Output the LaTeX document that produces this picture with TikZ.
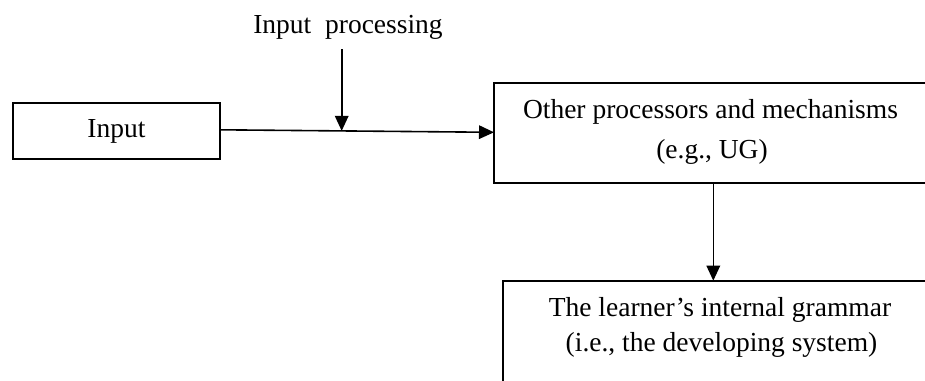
\documentclass[tikz,border=0pt]{standalone}
\usepackage{fontspec}
\setmainfont{Liberation Serif}
\usetikzlibrary{arrows.meta}
\tikzset{
  box/.style={draw, line width=1.7pt, rectangle, inner sep=0pt, outer sep=0pt},
  txt/.style={anchor=base, inner sep=0pt, font=\fontsize{27.5}{33}\selectfont},
  arrow/.style={line width=1.6pt, -{Triangle[length=15pt,width=13.5pt]}}
}
\begin{document}
\begin{tikzpicture}[x=1pt,y=-1pt]
  \useasboundingbox (0,0) rectangle (925,380);
  \clip (0,0) rectangle (925,380);
  \fill[white] (0,0) rectangle (925,380);

  % boxes
  \node[box, minimum width=207.3pt, minimum height=56.6pt] (input) at (116.4,131) {};
  \node[box, minimum width=432pt, minimum height=100.6pt] (other) at (710,133) {};
  \node[box, minimum width=434pt, minimum height=140pt] (learner) at (720,350.7) {};

  % labels
  \node[txt] (inputtxt) at (116.5,137.3) {Input};
  \node[txt] (proctxt) at (348,33.3) {Input\ \ processing};
  \node[txt] (othera) at (710.5,118) {Other processors and mechanisms};
  \node[txt] (otherb) at (712,158.3) {(e.g., UG)};
  \node[txt] (learna) at (720,316.7) {The learner’s internal grammar};
  \node[txt] (learnb) at (721.5,351.7) {(i.e., the developing system)};

  % connectors
  \coordinate (ptop) at (341.7,49.3);
  \coordinate (pjoin) at (341.7,130.9);
  \draw[arrow] ([yshift=1.2pt]input.east) -- ([yshift=0.7pt]other.west);
  \draw[arrow] (ptop) -- (pjoin);
  \draw[arrow] ([xshift=3.3pt]other.south) -- ([xshift=-6.7pt]learner.north);
\end{tikzpicture}
\end{document}
